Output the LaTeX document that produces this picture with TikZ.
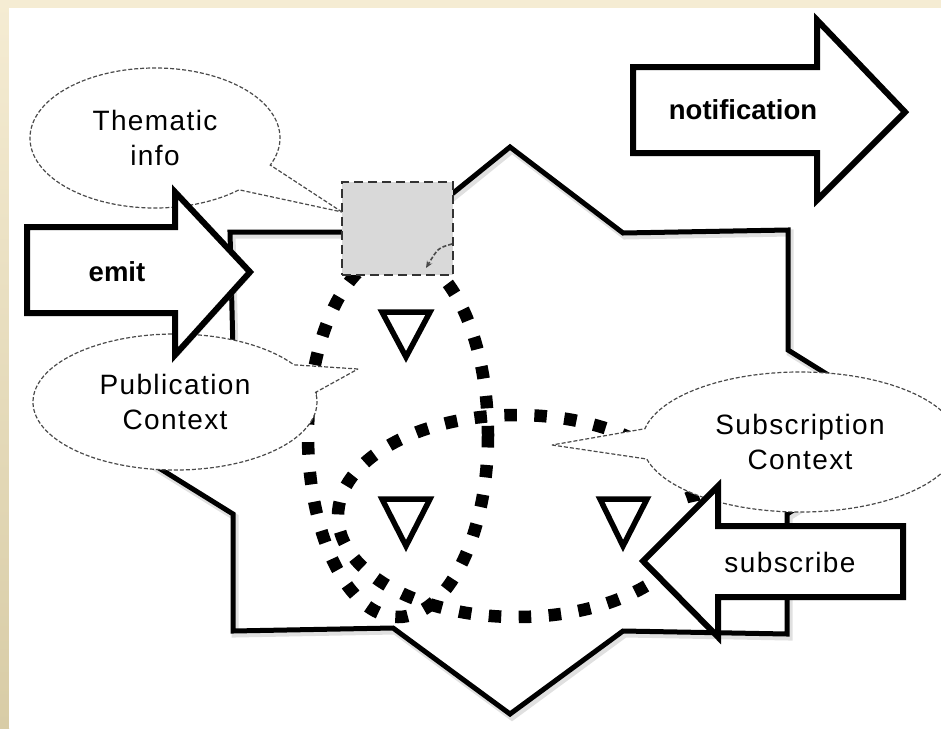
\documentclass[tikz,border=0pt]{standalone}
\usepackage{fontspec}
\setmainfont{Liberation Sans}
\newfontfamily\spacedsans[LetterSpace=5]{Liberation Sans}
\usetikzlibrary{shapes.callouts,shadows,arrows.meta}
\definecolor{creamtop}{HTML}{F5ECD3}
\definecolor{creambot}{HTML}{D8CCA6}
\definecolor{callgray}{HTML}{4A4A4A}
\begin{document}
\begin{tikzpicture}[x=1pt,y=-1pt,
  region/.style={line width=5pt, line join=miter},
  regionshadow/.style={line width=7pt, line join=miter, black, opacity=0.12},
  bigarrow/.style={draw=black, fill=white, line width=6pt, line join=miter,
    drop shadow={shadow xshift=2pt, shadow yshift=-3pt, opacity=0.22}},
  dotring/.style={line width=12.5pt, dash pattern=on 12.5pt off 17.5pt, line cap=butt},
  bubble/.style={ellipse callout, draw=callgray, fill=white, line width=1.2pt,
    dash pattern=on 4pt off 2pt, callout pointer arc=25, inner sep=0pt,
    align=center, font=\spacedsans\fontsize{28}{35}\selectfont},
  marker/.style={line width=5.5pt, line join=miter},
  boldlabel/.style={font=\fontsize{27.5}{33}\selectfont\bfseries, inner sep=0pt},
  plainlabel/.style={font=\spacedsans\fontsize{28}{34}\selectfont, inner sep=0pt},
]
% page background and panel
\useasboundingbox (0,0) rectangle (941,728);
\fill[creamtop] (0,0) rectangle (941,728);
\shade[top color=creamtop, bottom color=creambot] (0,0) rectangle (9,728);
\fill[white] (9,8) rectangle (941,728);

% star-shaped region outline (with a faint shadow)
\begin{scope}[shift={(2,3)}]
\draw[regionshadow] (230,232) -- (405,232) -- (510,147) -- (623,233) -- (788,230)
  -- (788,350) -- (920,432) -- (787,514) -- (787,634) -- (623,631) -- (510,714)
  -- (393,628) -- (233,631) -- (233,514) -- (101,432) -- (233,350) -- cycle;
\end{scope}
\draw[region] (230,232) -- (405,232) -- (510,147) -- (623,233) -- (788,230)
  -- (788,350) -- (920,432) -- (787,514) -- (787,634) -- (623,631) -- (510,714)
  -- (393,628) -- (233,631) -- (233,514) -- (101,432) -- (233,350) -- cycle;

% publication and subscription contexts
\draw[dotring] (398,435) ellipse [x radius=90, y radius=182];
\draw[dotring] (517,516) ellipse [x radius=179, y radius=101];

% filters
\draw[marker] (382,312) -- (430,312) -- (406,357) -- cycle;
\draw[marker] (382,499) -- (430,499) -- (406,546) -- cycle;
\draw[marker] (600,499) -- (647,499) -- (623,546) -- cycle;

% thematic information box
\node[draw=black!80, fill=gray!30, line width=2.5pt, dash pattern=on 9pt off 5pt,
  minimum width=111pt, minimum height=93pt, inner sep=0pt] (thematicbox) at (397.5,228.5) {};
\draw[callgray, line width=1.6pt, dash pattern=on 4pt off 2pt, -{Stealth[length=7pt,width=6pt]}]
  (452,244) .. controls (438,248) .. (426,268);

% callouts
\node[bubble, minimum width=250pt, minimum height=140pt,
  callout absolute pointer={(342,212)}] (thematic) at (155,138) {Thematic\\info};
\node[bubble, minimum width=284pt, minimum height=136pt,
  callout absolute pointer={(358,369)}] (publication) at (175,402) {Publication\\Context};
\node[bubble, minimum width=316pt, minimum height=140pt,
  callout absolute pointer={(552,445)}] (subscription) at (800,442) {Subscription\\Context};

% block arrows
\draw[bigarrow] (27,227) -- (175,227) -- (175,192) -- (250,272) -- (175,355)
  -- (175,313) -- (27,313) -- cycle;
\node[boldlabel] (emit) at (117,272) {emit};

\draw[bigarrow] (633,67) -- (817,67) -- (817,20) -- (905,112) -- (817,200)
  -- (817,153) -- (633,153) -- cycle;
\node[boldlabel] (notification) at (743,110) {notification};

\draw[bigarrow] (903,526) -- (718,526) -- (718,486) -- (643,561) -- (718,637)
  -- (718,597) -- (903,597) -- cycle;
\node[plainlabel] (subscribe) at (790,562) {subscribe};
\end{tikzpicture}
\end{document}
